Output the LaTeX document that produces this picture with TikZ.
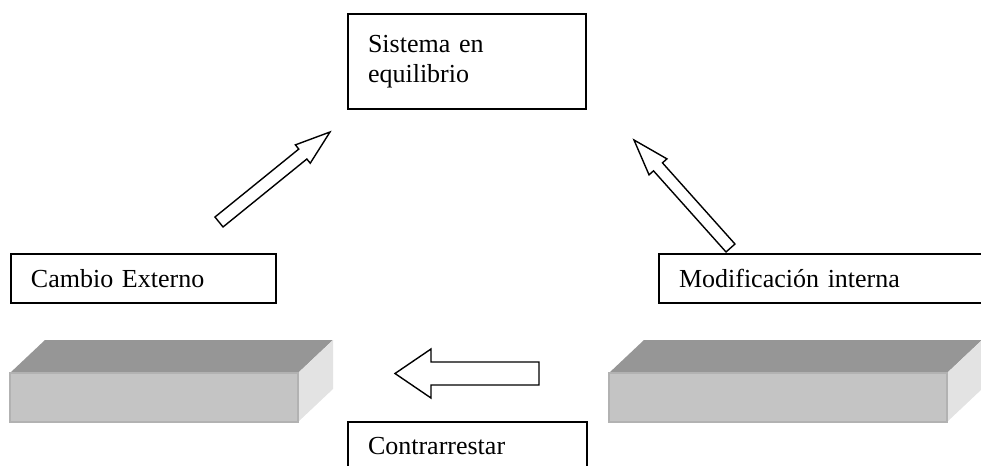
\documentclass[tikz,border=0pt]{standalone}
\usepackage{fontspec}
\setmainfont{Liberation Serif}
\usetikzlibrary{calc}

% hollow block arrow from (#1Tail) to (#1Tip)
\newcommand{\blockArrow}[4]{%
    \coordinate (#1Base) at ($(#1Tip)!#4!(#1Tail)$);
    \draw[hollowArrow] ($(#1Tail)!#2!90:(#1Tip)$) -- ($(#1Base)!#2!90:(#1Tip)$) -- ($(#1Base)!#3!90:(#1Tip)$) -- (#1Tip) -- ($(#1Base)!#3!-90:(#1Tip)$) -- ($(#1Base)!#2!-90:(#1Tip)$) -- ($(#1Tail)!#2!-90:(#1Tip)$) -- cycle;
}

\begin{document}
\begin{tikzpicture}[x=0.5pt, y=-0.5pt,
    textBox/.style={draw, line width=1pt, anchor=north west, align=left, inner xsep=10pt, inner ysep=0pt, minimum height=24.5pt, font=\fontsize{13}{15}\selectfont},
    hollowArrow/.style={draw, fill=white, line width=0.7pt, line join=miter},
    slabTop/.style={fill=black!41},
    slabFront/.style={fill=black!23, draw=black!30, line width=0.6pt},
    slabSide/.style={fill=black!11}]

    \useasboundingbox (0,0) rectangle (981,466);
    \clip (0,0) rectangle (981,466);

    \def\slabTopY{373};
    \def\slabBotY{422};
    \def\slabDx{35};
    \def\slabDy{33};

    % draw slabs
    \foreach \sx/\sw in {10/288, 609/338} {
        \pgfmathsetmacro{\sr}{\sx + \sw}
        \fill[slabTop] (\sx, \slabTopY) -- (\sx+\slabDx, \slabTopY-\slabDy) -- (\sr+\slabDx, \slabTopY-\slabDy) -- (\sr, \slabTopY) -- cycle;
        \fill[slabSide] (\sr, \slabTopY) -- (\sr+\slabDx, \slabTopY-\slabDy) -- (\sr+\slabDx, \slabBotY-\slabDy) -- (\sr, \slabBotY) -- cycle;
        \filldraw[slabFront] (\sx, \slabTopY) rectangle (\sr, \slabBotY);
    }

    % draw text boxes
    \node[textBox, text width=99pt, minimum height=47.5pt] (sistema) at (347,13) {Sistema en\\equilibrio};
    \node[textBox, text width=112.5pt] (cambio) at (10,253) {Cambio Externo};
    \node[textBox, text width=151pt] (modificacion) at (658,253) {Modificación interna};
    \node[textBox, text width=99.5pt] (contrarrestar) at (347,421) {Contrarrestar};

    % draw arrows
    \coordinate (leftTail) at (219,222);
    \coordinate (leftTip) at (330,132);
    \blockArrow{left}{3.2pt}{5.9pt}{17.5pt}

    \coordinate (rightTail) at (730.5,248);
    \coordinate (rightTip) at (634,140);
    \blockArrow{right}{3pt}{6pt}{18pt}

    \coordinate (bottomTail) at (539,373.5);
    \coordinate (bottomTip) at (395,373.5);
    \blockArrow{bottom}{5.75pt}{12.25pt}{18pt}

\end{tikzpicture}
\end{document}
